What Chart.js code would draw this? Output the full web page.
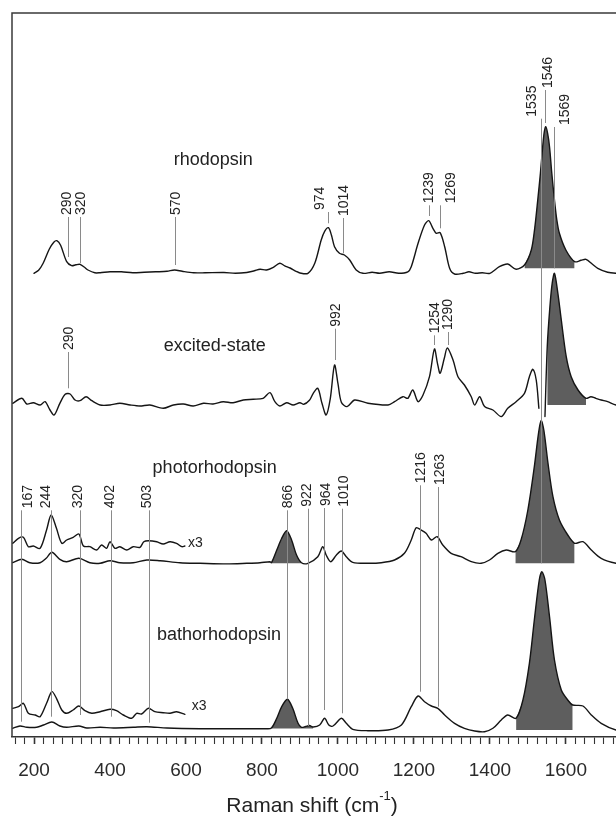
<!DOCTYPE html>
<html>
<head>
<meta charset="utf-8">
<script src="https://cdn.jsdelivr.net/npm/chart.js@4"></script>
<style>
  html, body { margin: 0; padding: 0; background: #fff; overflow: hidden; }
  canvas { display: block; }
</style>
</head>
<body>
<canvas id="raman" width="616" height="816"></canvas>
<script>
// Resonance Raman spectra of rhodopsin and its photoproducts.
// Each spectrum: [Raman shift (cm-1), intensity relative to its own baseline].

const rhodopsin = [
  [200,0],[212,3],[224,10],[240,24],[252,31],[260,32.6],[270,28],[286,11.6],[299,7.6],[310,8.5],
  [321,9],[333,6],[342,3.3],[360,0.5],[374,0.6],[400,1.5],[430,1.5],[460,0.5],[490,1],[520,1.5],
  [550,2],[570,3.3],[590,2],[620,0.5],[650,0.5],[700,0.8],[730,0],[760,0.8],[780,2.5],[795,4],
  [812,3.3],[830,6],[847,10],[860,7.5],[874,5.3],[890,2],[900,0.3],[921,0],[939,10],[956,33.3],
  [965,42],[975,45.6],[983,38],[991,26.6],[1004,20],[1017,18.3],[1031,13.3],[1048,3.3],[1066,0],
  [1090,1],[1110,0],[1135,1.5],[1160,0],[1184,1.5],[1193,6.6],[1211,30],[1228,48.3],[1239,52.6],
  [1250,45],[1259,40],[1269,40.6],[1281,26.6],[1294,5],[1307,-0.7],[1330,0],[1345,1.5],[1362,0],
  [1380,0.5],[1400,0],[1425,6.6],[1447,9.3],[1469,4],[1491,8.3],[1509,23.3],[1518,45],[1526,73.3],
  [1533,100],[1539,126.6],[1543,141],[1547,146.6],[1552,140],[1557,126.6],[1563,100],[1570,73.3],
  [1576,54],[1583,40],[1600,23.3],[1623,11.6],[1640,13],[1653,14],[1670,9],[1684,5],[1710,1],
  [1732,0],[1753,0]
];

// excited-state difference spectrum (break around the strong ground-state band)
const excitedState = [
  [144,0],[168,5],[181,-0.7],[198,0.6],[216,-1.7],[229,1.6],[242,-6.7],[253,-11.7],[268,0],[282,9],
  [295,9.3],[308,3.3],[321,2.6],[337,6.6],[352,2.6],[374,-1.7],[400,-1.7],[426,0],[453,-1.7],
  [479,-2.7],[505,-1.7],[540,-5],[567,-1.7],[593,-0.7],[619,-2.7],[646,0],[671,-0.7],[698,1.6],
  [724,0.6],[751,3.3],[777,4],[803,5],[821,10.6],[834,1.6],[847,-2.7],[865,0.6],[882,-1.7],[900,0.6],
  [910,-1],[925,3],[935,10],[947,15],[958,0],[969,-11.7],[980,5],[991,38.3],[1000,20],[1009,1],
  [1024,-3.3],[1044,3.3],[1079,0],[1132,-1.7],[1149,1.6],[1171,6.6],[1184,5],[1197,13.3],[1211,1.6],
  [1224,8.3],[1241,26.6],[1254,54.3],[1262,40],[1269,30],[1280,45],[1288,55.3],[1303,43.3],
  [1316,26.6],[1333,18.3],[1351,6.6],[1360,-1.7],[1373,6.6],[1386,-3.3],[1408,-6.7],[1430,-13.3],
  [1447,-5],[1469,1.6],[1491,10],[1504,26.6],[1513,34],[1522,23.3],[1529,-5],
  [1537,null],
  [1545,-13.3],[1551,56.6],[1558,96.6],[1564,120],[1570,130],[1579,110],[1588,83.3],[1601,46.6],
  [1614,26.6],[1632,13.3],[1653,5],[1666,6.6],[1679,5],[1693,3.3],[1710,1.6],[1732,-1.7],[1753,-1.7]
];

const photorhodopsin = [
  [144,0.6],[168,4],[189,0.6],[216,0.6],[232,5],[247,11],[268,4],[286,1.6],[318,5],[347,0.6],
  [374,0],[400,2.6],[426,0.6],[461,0.6],[497,3.3],[532,2.6],[584,0.6],[637,0],[707,-0.6],[760,0],
  [795,0.6],[821,1.6],[825,0.6],[839,13.3],[852,25],[865,32.6],[878,23.3],[891,8.3],[904,0.6],
  [921,0],[947,6.6],[960,16.6],[969,8.3],[981,1.6],[996,8.3],[1009,12.3],[1022,6.6],[1039,1],
  [1079,0],[1114,0.6],[1149,3.3],[1175,10],[1193,23.3],[1206,35.6],[1219,33.3],[1232,30],
  [1246,23.3],[1261,26.6],[1276,18.3],[1298,10],[1324,6.6],[1351,1.6],[1377,0],[1399,3.3],
  [1421,10],[1443,13.3],[1467,11.6],[1482,23.3],[1500,53.3],[1517,96.6],[1528,130],[1535,142.6],
  [1542,133.3],[1553,100],[1566,66.6],[1583,43.3],[1605,28.3],[1623,20],[1645,21.6],[1667,13.3],
  [1693,5],[1732,0],[1753,0]
];

// low-frequency region, scaled x3
const photorhodopsinX3 = [
  [144,3.4],[159,8.4],[172,9.4],[185,0],[198,0.7],[216,-1.6],[233,16.7],[245,31.7],[259,18.4],
  [273,3.4],[286,6.7],[303,9.4],[318,12.7],[330,0.7],[347,0],[365,-3.3],[378,1.7],[391,-1.6],
  [400,5],[413,-1.6],[426,0],[444,-3.3],[461,0],[479,-0.6],[489,5],[501,6],[523,5],[540,2.7],
  [558,5],[575,3.4],[589,0],[597,0.7]
];

const bathorhodopsin = [
  [144,-0.3],[163,2],[181,0.7],[207,0.7],[225,3],[247,6],[268,2],[286,0.7],[318,2],[339,0],
  [374,0.7],[409,0],[461,0.7],[497,1.3],[550,0],[637,-0.7],[724,-0.7],[812,-0.7],[825,0],
  [839,9.7],[852,21.3],[867,28.7],[881,19.7],[895,4.7],[904,0.7],[915,1.5],[925,2.5],[935,1],
  [952,3],[965,9.7],[976,3],[987,2],[1009,9.7],[1022,4.7],[1039,-1.3],[1079,-2.7],[1132,-2],
  [1167,3],[1193,21.3],[1211,32],[1228,26.3],[1246,22],[1263,19.7],[1281,13],[1307,4.7],
  [1333,-0.3],[1360,-3],[1386,-3.7],[1408,-0.3],[1430,8],[1447,13],[1469,9.7],[1487,28],
  [1504,64.7],[1517,108],[1530,148],[1537,156.3],[1545,148],[1557,111.3],[1570,68],[1588,38],
  [1605,28],[1618,23],[1645,22],[1667,13],[1693,4.7],[1732,-2],[1753,-2]
];

const bathorhodopsinX3 = [
  [144,6.7],[159,8.3],[172,11.7],[185,1.7],[203,0],[216,-1.7],[233,11.7],[247,23.3],[259,16.7],
  [273,5],[286,1.7],[303,5],[318,9],[334,4.3],[352,1.7],[374,3.3],[400,5.7],[417,4.3],[435,0],
  [457,-3.3],[470,1.7],[483,1],[501,6.7],[518,3.3],[540,2.3],[558,1.7],[575,3.3],[597,0.7]
];

// vertical stacking offsets of the spectra (intensity axis units)
const baseRho = 463.7, baseExc = 333.7, basePhoto = 173.7, basePhotoX3 = 190.3, baseBatho = 9, baseBathoX3 = 22;

// shaded bands: [from, to, floor relative to baseline]
const rhoBands = [[1491, 1623, 5]];
const excBands = [[1551, 1653, -1.7]];
const photoBands = [[825, 904, 0], [1467, 1623, 0]];
const bathoBands = [[825, 935, -0.5], [1469, 1618, -2]];

// peak assignments: band position, label centre, label foot and leader end (intensity axis units)
const rhoPeaks     = [290, 320, 570, 974, 1014, 1239, 1269, 1535, 1546, 1569];
const rhoLabelAt   = [283, 320, 570, 951, 1014, 1236, 1294, 1509, 1550, 1596];
const rhoLabelFoot = [522, 522, 522, 527, 521, 533.7, 533.7, 620.3, 649, 612];
const rhoLeadEnd   = [480, 473.7, 472, 513.7, 483.7, 521, 508.7, 173.7, 614, 468.7];

const excPeaks     = [290, 992, 1254, 1290];
const excLabelAt   = [290, 992, 1254, 1288];
const excLabelFoot = [387, 410.3, 403.7, 407];
const excLeadEnd   = [348.7, 377, 392, 392];

const photoPeaks     = [167, 244, 320, 402, 503, 866, 922, 964, 1010, 1216, 1263];
const photoLabelAt   = [181, 229, 314, 397, 494, 867, 916, 965, 1013, 1215, 1265];
const photoLabelFoot = [228.7, 228.7, 228.7, 228.7, 228.7, 228.7, 230.3, 231, 230.3, 253.7, 252];
const photoLeadEnd   = [15.3, 20.3, 22, 20.3, 14.3, 37.7, 11, 27, 23.7, 45.3, 30.3];

// spectrum names and the x3 notes
const traceNames = ['rhodopsin', 'excited-state', 'photorhodopsin', 'bathorhodopsin'];
const traceNameAt = [672, 676, 675.5, 687];
const traceNameLevel = [572, 386, 264.3, 97];
const scaleNote = 'x3';
const scaleNoteAt = [605, 615];
const scaleNoteLevel = [190.3, 27];

// axis
const X_MIN = 142, X_MAX = 1732, Y_MAX = 724;
const tickLabels = [200, 400, 600, 800, 1000, 1200, 1400, 1600];
const minorStep = 25;

const FONT = '"Liberation Sans", Arial, Helvetica, sans-serif';
const INK = '#151515';
const SHADE = '#5e5e5e';
const LEADER = '#8a8a8a';

Chart.defaults.font.family = FONT;

function toPoints(pairs, base) {
  return pairs.map(([x, y]) => ({ x, y: y === null ? null : base + y }));
}
function within(pairs, from, to) {
  return pairs.filter(([x, y]) => x >= from && x <= to && y !== null);
}
function traceSet(pairs, base) {
  return { data: toPoints(pairs, base), borderColor: INK, borderWidth: 1.4, fill: false, order: 1 };
}
function bandSets(pairs, base, bands) {
  return bands.map(([from, to, floor]) => ({
    data: toPoints(within(pairs, from, to), base),
    borderWidth: 0, borderColor: 'rgba(0,0,0,0)',
    backgroundColor: SHADE,
    fill: { value: base + floor },
    order: 3
  }));
}

const datasets = [
  ...bandSets(rhodopsin, baseRho, rhoBands),
  ...bandSets(excitedState, baseExc, excBands),
  ...bandSets(photorhodopsin, basePhoto, photoBands),
  ...bandSets(bathorhodopsin, baseBatho, bathoBands),
  traceSet(rhodopsin, baseRho),
  traceSet(excitedState, baseExc),
  traceSet(photorhodopsin, basePhoto),
  traceSet(photorhodopsinX3, basePhotoX3),
  traceSet(bathorhodopsin, baseBatho),
  traceSet(bathorhodopsinX3, baseBathoX3)
];

const minorTicks = [];
for (let v = 150; v <= 1725; v += minorStep) minorTicks.push(v);

// plot frame (left and top edges; the x axis draws the bottom one)
const framePlugin = {
  id: 'frame',
  afterDraw(chart) {
    const { ctx, chartArea: a } = chart;
    ctx.save();
    ctx.strokeStyle = '#3a3a3a';
    ctx.lineWidth = 1.5;
    ctx.beginPath();
    ctx.moveTo(a.left, a.bottom);
    ctx.lineTo(a.left, a.top);
    ctx.lineTo(a.right, a.top);
    ctx.stroke();
    ctx.restore();
  }
};

// peak labels with leader lines, spectrum names
const labelPlugin = {
  id: 'peakLabels',
  afterDatasetsDraw(chart) {
    const { ctx } = chart;
    const xs = chart.scales.x, ys = chart.scales.y;
    ctx.save();

    const drawGroup = (peaks, at, foot, end) => {
      peaks.forEach((v, i) => {
        const xl = Math.round(xs.getPixelForValue(v)) + 0.5;
        const y0 = ys.getPixelForValue(foot[i]) + 2;
        const y1 = ys.getPixelForValue(end[i]);
        ctx.strokeStyle = LEADER;
        ctx.lineWidth = 1;
        ctx.beginPath();
        ctx.moveTo(xl, y0);
        ctx.lineTo(xl, y1);
        ctx.stroke();

        const xt = xs.getPixelForValue(at[i]);
        const yt = ys.getPixelForValue(foot[i]);
        ctx.save();
        ctx.translate(xt, yt);
        ctx.rotate(-Math.PI / 2);
        ctx.font = '14px ' + FONT;
        ctx.fillStyle = '#222';
        ctx.textAlign = 'left';
        ctx.textBaseline = 'alphabetic';
        ctx.fillText(String(v), 0, 5);
        ctx.restore();
      });
    };
    drawGroup(rhoPeaks, rhoLabelAt, rhoLabelFoot, rhoLeadEnd);
    drawGroup(excPeaks, excLabelAt, excLabelFoot, excLeadEnd);
    drawGroup(photoPeaks, photoLabelAt, photoLabelFoot, photoLeadEnd);

    ctx.fillStyle = '#222';
    ctx.textBaseline = 'alphabetic';
    ctx.font = '18px ' + FONT;
    ctx.textAlign = 'center';
    traceNames.forEach((name, i) => {
      ctx.fillText(name, xs.getPixelForValue(traceNameAt[i]), ys.getPixelForValue(traceNameLevel[i]));
    });
    ctx.font = '14px ' + FONT;
    ctx.textAlign = 'left';
    scaleNoteAt.forEach((v, i) => {
      ctx.fillText(scaleNote, xs.getPixelForValue(v), ys.getPixelForValue(scaleNoteLevel[i]));
    });
    ctx.restore();
  }
};

// x-axis title with superscript unit
const axisTitlePlugin = {
  id: 'axisTitle',
  afterDraw(chart) {
    const { ctx, chartArea: a } = chart;
    const main = 'Raman shift (cm', sup = '-1', close = ')';
    ctx.save();
    ctx.fillStyle = '#222';
    ctx.textBaseline = 'alphabetic';
    ctx.textAlign = 'left';
    ctx.font = '21px ' + FONT;
    const w1 = ctx.measureText(main).width;
    const w3 = ctx.measureText(close).width;
    ctx.font = '13px ' + FONT;
    const w2 = ctx.measureText(sup).width;
    const cx = (a.left + a.right) / 2 - 2;
    const base = a.bottom + 75;
    let x = cx - (w1 + w2 + w3) / 2;
    ctx.font = '21px ' + FONT;
    ctx.fillText(main, x, base);
    x += w1;
    ctx.font = '13px ' + FONT;
    ctx.fillText(sup, x, base - 12);
    x += w2;
    ctx.font = '21px ' + FONT;
    ctx.fillText(close, x, base);
    ctx.restore();
  }
};

new Chart(document.getElementById('raman'), {
  type: 'line',
  data: { datasets },
  options: {
    responsive: false,
    animation: false,
    devicePixelRatio: 1,
    layout: { padding: { left: 12, top: 13, right: 0, bottom: 0 } },
    elements: {
      point: { radius: 0, hoverRadius: 0 },
      line: { tension: 0.3, borderCapStyle: 'round', borderJoinStyle: 'round' }
    },
    plugins: { legend: { display: false }, tooltip: { enabled: false } },
    events: [],
    scales: {
      x: {
        type: 'linear',
        min: X_MIN,
        max: X_MAX,
        afterBuildTicks: s => { s.ticks = minorTicks.map(v => ({ value: v })); },
        afterFit: s => { s.height = 79; s.paddingLeft = 0; s.paddingRight = 0; },
        ticks: {
          autoSkip: false,
          maxRotation: 0,
          padding: 15,
          color: '#2a2a2a',
          font: { size: 19 },
          callback: v => tickLabels.includes(v) ? String(v) : ''
        },
        grid: {
          drawOnChartArea: false,
          drawTicks: true,
          tickLength: 7,
          tickColor: '#333',
          tickWidth: c => (c.tick && tickLabels.includes(c.tick.value)) ? 1.6 : 1.1
        },
        border: { display: true, color: '#333', width: 1.5 }
      },
      y: { display: false, min: 0, max: Y_MAX }
    }
  },
  plugins: [framePlugin, labelPlugin, axisTitlePlugin]
});
</script>
</body>
</html>
